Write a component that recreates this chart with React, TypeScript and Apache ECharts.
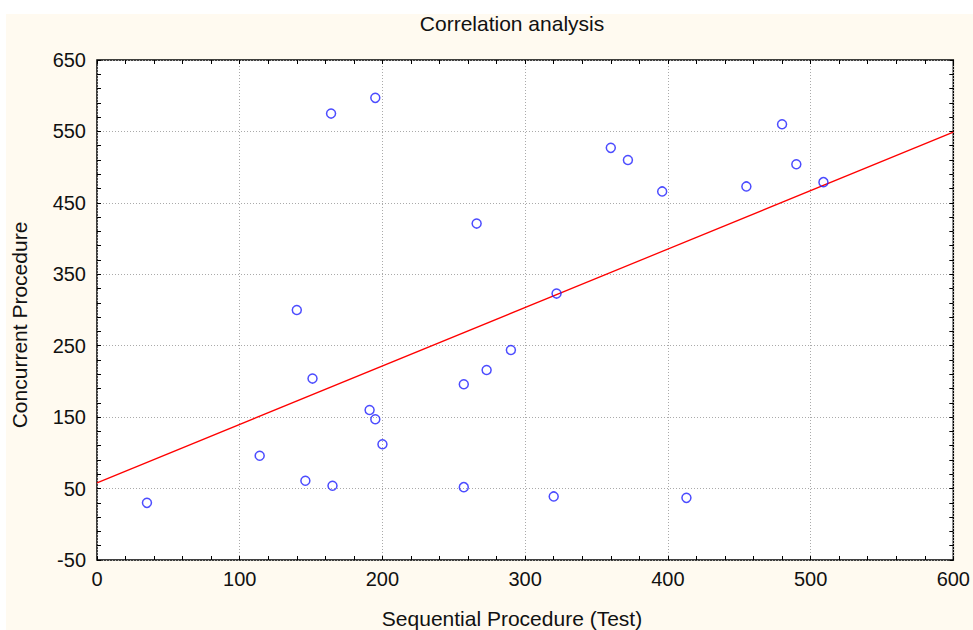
import React, { useEffect, useRef } from "react";
import * as echarts from "echarts";

const seqX = [35, 114, 140, 146, 151, 164, 165, 191, 195, 195, 200, 257, 257, 266, 273, 290, 320, 322, 360, 372, 396, 413, 455, 480, 490, 509];
const concY = [30, 96, 300, 61, 204, 575, 54, 160, 147, 597, 112, 196, 52, 421, 216, 244, 39, 323, 527, 510, 466, 37, 473, 560, 504, 479];
const fitX = [0, 600];
const fitY = [58, 549];

const titleText = "Correlation analysis";
const xName = "Sequential Procedure (Test)";
const yName = "Concurrent Procedure";

const FONT = '"Liberation Sans", Arial, sans-serif';

export default function App() {
  const ref = useRef<HTMLDivElement>(null);
  useEffect(() => {
    if (!ref.current) return;
    const chart = echarts.init(ref.current, undefined, { renderer: "svg" });
    const tickCommon = {
      axisTick: { show: true, inside: true, length: 4, lineStyle: { color: "#000", width: 1 } },
      minorTick: { show: true, splitNumber: 5, length: 4, lineStyle: { color: "#000", width: 1 } },
      axisLine: { show: false, onZero: false },
    };
    const gridLine = { show: true, lineStyle: { color: "#aaaaaa", width: 1, type: [1, 2] as any } };
    const labelStyle = { color: "#111", fontSize: 20, fontFamily: FONT };
    chart.setOption({
      animation: false,
      backgroundColor: "#ffffff",
      grid: {
        left: 97,
        top: 60,
        width: 858,
        height: 500,
        show: true,
        backgroundColor: "#ffffff",
        borderColor: "#000",
        borderWidth: 1.5,
      },
      xAxis: [
        {
          type: "value",
          min: 0,
          max: 600,
          interval: 100,
          position: "bottom",
          ...tickCommon,
          splitLine: gridLine,
          axisLabel: { ...labelStyle, margin: 9 },
        },
        {
          type: "value",
          min: 0,
          max: 600,
          interval: 100,
          position: "top",
          ...tickCommon,
          splitLine: { show: false },
          axisLabel: { show: false },
        },
      ],
      yAxis: [
        {
          type: "value",
          min: -50,
          max: 650,
          interval: 100,
          position: "left",
          ...tickCommon,
          splitLine: gridLine,
          axisLabel: { ...labelStyle, margin: 11 },
        },
        {
          type: "value",
          min: -50,
          max: 650,
          interval: 100,
          position: "right",
          ...tickCommon,
          splitLine: { show: false },
          axisLabel: { show: false },
        },
      ],
      graphic: [
        {
          type: "rect",
          z: -10,
          shape: { x: 6, y: 14, width: 967, height: 616 },
          style: { fill: "#fffaf0" },
          silent: true,
        },
        {
          type: "text",
          x: 512,
          y: 23,
          style: { text: titleText, fill: "#111", font: `21px ${FONT}`, align: "center", verticalAlign: "middle" },
        },
        {
          type: "text",
          x: 512,
          y: 618,
          style: { text: xName, fill: "#111", font: `21px ${FONT}`, align: "center", verticalAlign: "middle" },
        },
        {
          type: "text",
          x: 19,
          y: 325,
          rotation: Math.PI / 2,
          style: { text: yName, fill: "#111", font: `21px ${FONT}`, align: "center", verticalAlign: "middle" },
        },
      ],
      series: [
        {
          type: "line",
          data: fitX.map((x, i) => [x, fitY[i]]),
          showSymbol: false,
          symbol: "none",
          lineStyle: { color: "#ff0000", width: 1.3 },
          z: 2,
        },
        {
          type: "scatter",
          data: seqX.map((x, i) => [x, concY[i]]),
          symbol: "circle",
          symbolSize: 9,
          itemStyle: { color: "rgba(255,255,255,0)", borderColor: "#1f1fff", borderWidth: 1.5 },
          z: 3,
        },
      ],
    });
    return () => chart.dispose();
  }, []);
  return (
    <div style={{ position: "absolute", left: 0, top: 0, width: 973, height: 630, background: "#ffffff" }}>
      <div ref={ref} style={{ width: 973, height: 630 }} />
    </div>
  );
}
